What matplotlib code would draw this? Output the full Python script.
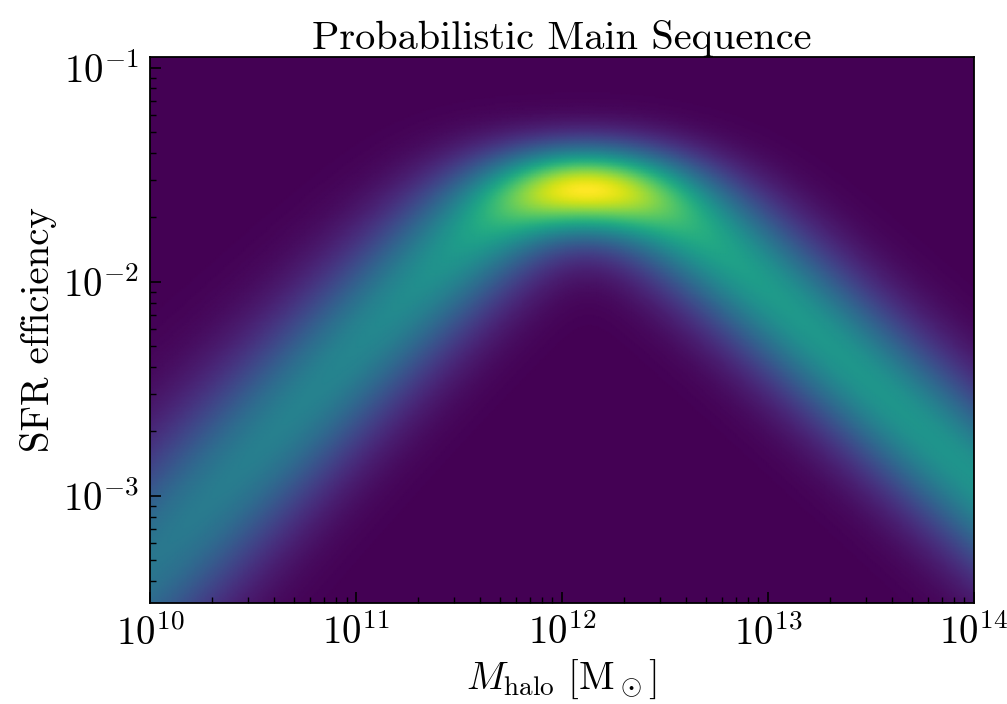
import numpy as np
import matplotlib
matplotlib.use("Agg")
import matplotlib.pyplot as plt
from matplotlib.ticker import FuncFormatter, LogLocator

plt.rcParams["font.family"] = "serif"
plt.rcParams["font.serif"] = ["cmr10", "DejaVu Serif"]
plt.rcParams["mathtext.fontset"] = "cm"
plt.rcParams["axes.unicode_minus"] = False

# Limits of the plotted region (log10)
log_mass_range = [10.0, 14.0]
log_eff_range = [-3.5, -0.95]

# Main sequence shape (double power law in log space)
log_m_peak = 12.08     # halo mass of the peak
log_eff_peak = -1.52   # efficiency at the peak
slope_low = 1.0        # low mass slope
slope_high = 0.88      # high mass slope

# Scatter (dex)
scatter_eff = 0.13       # vertical scatter
scatter_m_peak = 0.29    # uncertainty of the peak mass
scatter_slope_low = 0.10   # growth of scatter below the peak
scatter_slope_high = 0.03  # growth of scatter above the peak

x_ticks = [1e10, 1e11, 1e12, 1e13, 1e14]
y_ticks = [1e-3, 1e-2, 1e-1]


def ridge(logm, m1):
    d = logm - m1
    return log_eff_peak + np.log10(2.0 / (10 ** (-slope_low * d) + 10 ** (slope_high * d)))


# Grid
logm = np.linspace(log_mass_range[0], log_mass_range[1], 500)
loge = np.linspace(log_eff_range[0], log_eff_range[1], 400)
LM, LE = np.meshgrid(logm, loge)

# Marginalise over the peak mass on a fixed quadrature grid
offsets = np.linspace(-3, 3, 61)
weights = np.exp(-0.5 * offsets ** 2)
weights /= weights.sum()

dm = LM - log_m_peak
grow = np.where(dm < 0, scatter_slope_low, scatter_slope_high) * dm
sig = np.sqrt(scatter_eff ** 2 + grow ** 2)
dens = np.zeros_like(LM)
for o, w in zip(offsets, weights):
    c = ridge(LM, log_m_peak + o * scatter_m_peak)
    dens += w * np.exp(-0.5 * ((LE - c) / sig) ** 2) / sig
dens /= dens.max()

fig = plt.figure(figsize=(10.07, 7.04), dpi=100)
ax = fig.add_axes([0.149, 0.1435, 0.818, 0.7755])

ax.pcolormesh(10 ** logm, 10 ** loge, dens, cmap="viridis", shading="gouraud",
              vmin=0, vmax=1, rasterized=True)
ax.set_xscale("log")
ax.set_yscale("log")
ax.set_xlim(10 ** log_mass_range[0], 10 ** log_mass_range[1])
ax.set_ylim(10 ** log_eff_range[0], 10 ** log_eff_range[1])

fmt = FuncFormatter(lambda v, _: r"$10^{%d}$" % round(np.log10(v)))
ax.set_xticks(x_ticks)
ax.set_yticks(y_ticks)
ax.xaxis.set_major_formatter(fmt)
ax.yaxis.set_major_formatter(fmt)
ax.xaxis.set_minor_locator(LogLocator(base=10, subs=np.arange(2, 10)))
ax.yaxis.set_minor_locator(LogLocator(base=10, subs=np.arange(2, 10)))
ax.xaxis.set_minor_formatter(plt.NullFormatter())
ax.yaxis.set_minor_formatter(plt.NullFormatter())

ax.tick_params(which="both", direction="in", labelsize=28, pad=8)
ax.tick_params(which="major", length=8, width=1.2)
ax.tick_params(which="minor", length=4.5, width=1)
for s in ax.spines.values():
    s.set_linewidth(1.3)

ax.set_xlabel(r"$M_{\rm halo}\ [{\rm M}_\odot]$", fontsize=28)
ax.set_ylabel("SFR efficiency", fontsize=28)
ax.set_title("Probabilistic Main Sequence", fontsize=29)

fig.savefig("out.png", dpi=100)
